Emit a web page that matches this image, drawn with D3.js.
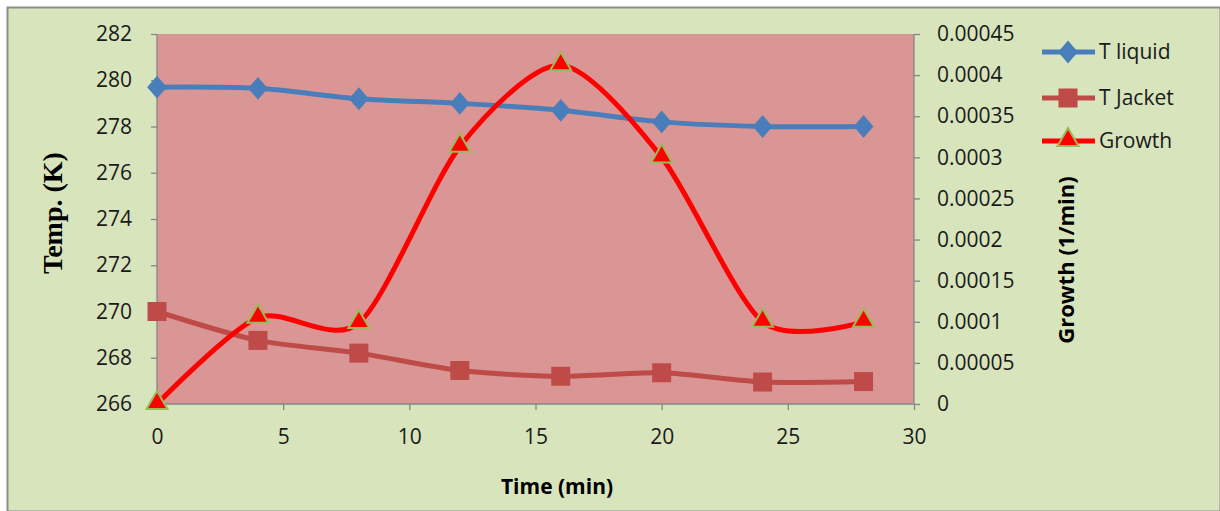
<!DOCTYPE html>
<html><head><meta charset="utf-8">
<script src="https://cdn.jsdelivr.net/npm/d3@7"></script>
<style>body{margin:0;background:#fff}svg{display:block}</style>
</head><body>
<script>
const times = [0, 4, 8, 12, 16, 20, 24, 28];
const tLiquid = [279.7, 279.65, 279.2, 279.0, 278.7, 278.2, 278.0, 278.0];
const tJacket = [270.0, 268.75, 268.2, 267.45, 267.2, 267.35, 266.95, 266.97];
const growth = [0.0, 0.000105, 0.0000985, 0.000313, 0.000412, 0.0003, 0.0001, 0.0001];
const xTicks = [0, 5, 10, 15, 20, 25, 30];
const yLeftTicks = [266, 268, 270, 272, 274, 276, 278, 280, 282];
const yRightTicks = [0, 0.00005, 0.0001, 0.00015, 0.0002, 0.00025, 0.0003, 0.00035, 0.0004, 0.00045];
const rightLabels = ["0","0.00005","0.0001","0.00015","0.0002","0.00025","0.0003","0.00035","0.0004","0.00045"];
const seriesNames = ["T liquid", "T Jacket", "Growth"];

const W = 1220, H = 511;
const L = 157, R = 914, T = 34, B = 404;
const svg = d3.select("body").append("svg").attr("width", W).attr("height", H);
svg.append("rect").attr("x", 7.5).attr("y", 7.5).attr("width", W - 7).attr("height", H - 7)
  .attr("fill", "#d8e4bc").attr("stroke", "#8c8c8c").attr("stroke-width", 2);

const x = d3.scaleLinear().domain([0, 30]).range([L, R]);
const yL = d3.scaleLinear().domain([266, 282]).range([B, T]);
const yR = d3.scaleLinear().domain([0, 0.00045]).range([B, T]);

svg.append("rect").attr("x", L).attr("y", T).attr("width", R - L).attr("height", B - T).attr("fill", "#da9694");

const font = "'Open Sans', 'Liberation Sans', sans-serif";
const axColor = "#868686";

const gx = svg.append("g").attr("transform", `translate(0,${B})`)
  .call(d3.axisBottom(x).tickValues(xTicks).tickSize(6).tickPadding(19).tickFormat(d3.format("d")));
const gl = svg.append("g").attr("transform", `translate(${L},0)`)
  .call(d3.axisLeft(yL).tickValues(yLeftTicks).tickSize(6).tickPadding(19).tickFormat(d3.format("d")));
const gr = svg.append("g").attr("transform", `translate(${R},0)`)
  .call(d3.axisRight(yR).tickValues(yRightTicks).tickSize(6).tickPadding(18).tickFormat((d, i) => rightLabels[i]));
[gx, gl, gr].forEach(g => {
  g.selectAll("path,line").attr("stroke", axColor).attr("stroke-width", 1.3);
  g.selectAll("text").attr("fill", "#1a1a1a").style("font-family", font).style("font-size", "21px");
});
gl.select(".domain").attr("d", `M0,${T}V${B}`);
gr.select(".domain").attr("d", `M0,${T}V${B}`);
gx.select(".domain").attr("d", `M${L},0H${R}`);
gr.selectAll("text").attr("x", 23);

const curve = d3.curveCardinal.tension(0.2);
const lineL = d3.line().x((d, i) => x(times[i])).y(d => yL(d)).curve(curve);
const lineR = d3.line().x((d, i) => x(times[i])).y(d => yR(d)).curve(curve);

const cBlue = "#4a7ebb", cJack = "#be4b48", cRed = "#ff0000";
svg.append("path").attr("d", lineL(tLiquid)).attr("fill", "none").attr("stroke", cBlue).attr("stroke-width", 5);
svg.append("path").attr("d", lineL(tJacket)).attr("fill", "none").attr("stroke", cJack).attr("stroke-width", 5);
svg.append("path").attr("d", lineR(growth)).attr("fill", "none").attr("stroke", cRed).attr("stroke-width", 5);

const diamond = d3.symbol().type(d3.symbolDiamond).size(150);
const square = d3.symbol().type(d3.symbolSquare).size(361);
const tri = d3.symbol().type(d3.symbolTriangle).size(190);

svg.selectAll(".dL").data(tLiquid).join("path")
  .attr("transform", (d, i) => `translate(${x(times[i])},${yL(d)}) scale(1.5,1)`)
  .attr("d", diamond).attr("fill", cBlue);
svg.selectAll(".dJ").data(tJacket).join("path")
  .attr("transform", (d, i) => `translate(${x(times[i])},${yL(d)})`)
  .attr("d", square).attr("fill", cJack);
svg.selectAll(".dG").data(growth).join("path")
  .attr("transform", (d, i) => `translate(${x(times[i])},${yR(d) - 1})`)
  .attr("d", tri).attr("fill", cRed).attr("stroke", "#9bbb59").attr("stroke-width", 2);

// legend
const legY = [52, 98, 141];
const colors = [cBlue, cJack, cRed];
const syms = [diamond, square, tri];
seriesNames.forEach((n, i) => {
  const g = svg.append("g").attr("transform", `translate(0,${legY[i]})`);
  g.append("line").attr("x1", 1042).attr("x2", 1095).attr("y1", 0).attr("y2", 0)
    .attr("stroke", colors[i]).attr("stroke-width", 5);
  const s = g.append("path").attr("d", syms[i]).attr("fill", colors[i])
    .attr("transform", i === 0 ? "translate(1068,0) scale(1.5,1)" : `translate(1068,${i === 2 ? -1 : 0})`);
  if (i === 2) s.attr("stroke", "#9bbb59").attr("stroke-width", 2);
  g.append("text").attr("x", 1099).attr("y", 0).attr("dy", "0.35em").text(n)
    .style("font-family", font).style("font-size", "21px").attr("fill", "#1a1a1a");
});

// axis titles
svg.append("text").attr("transform", "translate(52,213) rotate(-90)").attr("text-anchor", "middle")
  .attr("dy", "0.35em").text("Temp. (K)")
  .style("font-family", "'Liberation Serif', 'DejaVu Serif', serif").style("font-weight", "bold").style("font-size", "28px");
svg.append("text").attr("transform", "translate(1066,260) rotate(-90)").attr("text-anchor", "middle")
  .attr("dy", "0.35em").text("Growth (1/min)")
  .style("font-family", font).style("font-weight", "bold").style("font-size", "22px");
svg.append("text").attr("x", 557).attr("y", 487).attr("text-anchor", "middle").attr("dy", "0.35em")
  .text("Time (min)").style("font-family", font).style("font-weight", "bold").style("font-size", "21px");
</script>
</body></html>
